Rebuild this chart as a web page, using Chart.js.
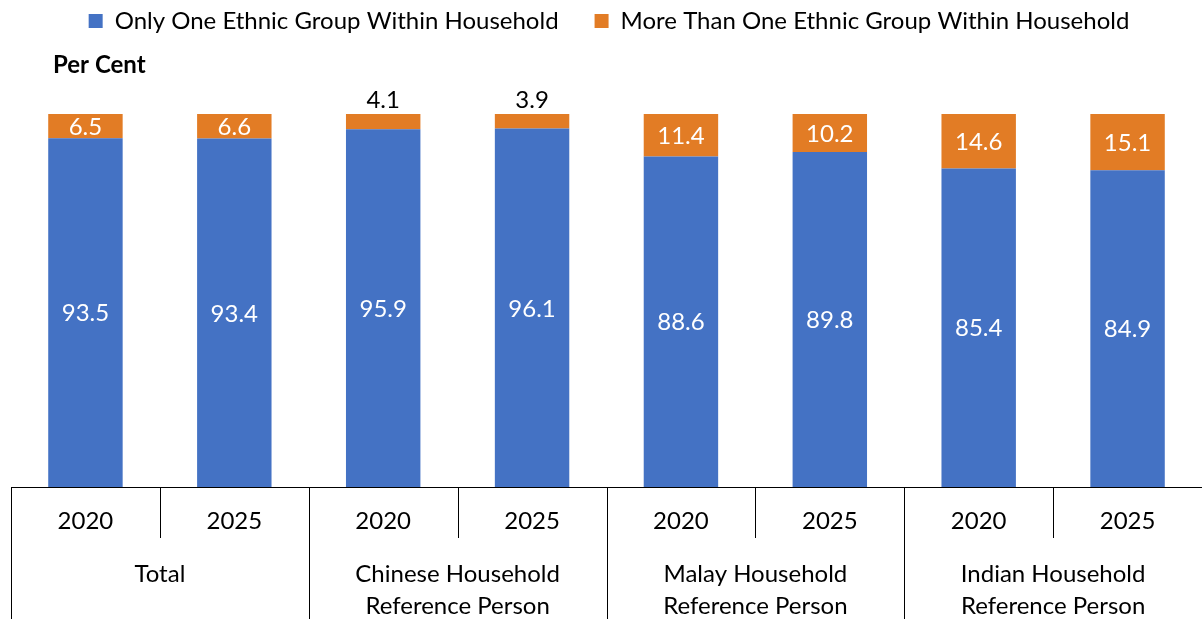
<!DOCTYPE html>
<html>
<head>
<meta charset="utf-8">
<script src="https://cdn.jsdelivr.net/npm/chart.js@4.4.1/dist/chart.umd.min.js"></script>
<style>
  html, body { margin: 0; padding: 0; background: #fff; }
  #wrap { width: 1202px; height: 619px; }
</style>
</head>
<body>
<div id="wrap"><canvas id="chart"></canvas></div>
<script>
// data
const years = ['2020', '2025', '2020', '2025', '2020', '2025', '2020', '2025'];
const groups = [
  ['Total'],
  ['Chinese Household', 'Reference Person'],
  ['Malay Household', 'Reference Person'],
  ['Indian Household', 'Reference Person'],
];
const seriesNames = ['Only One Ethnic Group Within Household', 'More Than One Ethnic Group Within Household'];
const oneGroup = [93.5, 93.4, 95.9, 96.1, 88.6, 89.8, 85.4, 84.9];
const multiGroup = [6.5, 6.6, 4.1, 3.9, 11.4, 10.2, 14.6, 15.1];
const yTitle = 'Per Cent';

const FONT = 'Lato, "Open Sans", sans-serif';
const BLUE = '#4472C4';
const ORANGE = '#E27C25';

// labels on each bar segment; thin segments get their label above the bar
const segmentLabels = {
  id: 'segmentLabels',
  afterDatasetsDraw(chart) {
    const ctx = chart.ctx;
    ctx.save();
    ctx.font = '24px ' + FONT;
    ctx.textAlign = 'center';
    ctx.textBaseline = 'middle';
    chart.data.datasets.forEach((ds, di) => {
      chart.getDatasetMeta(di).data.forEach((bar, i) => {
        const v = ds.data[i];
        const h = Math.abs(bar.base - bar.y);
        if (h < 22) {
          ctx.fillStyle = '#000';
          ctx.fillText(v.toFixed(1), bar.x, bar.y - 14);
        } else {
          ctx.fillStyle = '#fff';
          ctx.fillText(v.toFixed(1), bar.x, (bar.y + bar.base) / 2 + 1);
        }
      });
    });
    ctx.restore();
  },
};

// two-level category axis: dividers and group names
const groupAxis = {
  id: 'groupAxis',
  afterDraw(chart) {
    const ctx = chart.ctx;
    const xs = chart.scales.x;
    const half = (xs.getPixelForValue(1) - xs.getPixelForValue(0)) / 2;
    const top = xs.top;
    ctx.save();
    ctx.strokeStyle = '#000';
    ctx.lineWidth = 1;
    for (let i = 0; i < years.length; i++) {
      const x = Math.round(xs.getPixelForValue(i) - half) + 0.5;
      ctx.beginPath();
      ctx.moveTo(x, top);
      ctx.lineTo(x, i % 2 === 0 ? chart.height : top + 51);
      ctx.stroke();
    }
    ctx.fillStyle = '#000';
    ctx.font = '24px ' + FONT;
    ctx.textAlign = 'center';
    ctx.textBaseline = 'middle';
    groups.forEach((lines, g) => {
      const cx = (xs.getPixelForValue(2 * g) + xs.getPixelForValue(2 * g + 1)) / 2;
      lines.forEach((t, k) => ctx.fillText(t, cx, top + 87 + k * 32));
    });
    // axis title
    ctx.font = 'bold 24px ' + FONT;
    ctx.textAlign = 'left';
    ctx.fillText(yTitle, 53, 65);
    ctx.restore();
  },
};

// leave room under the legend for the axis title
const legendRoom = {
  id: 'legendRoom',
  beforeInit(chart) {
    const fit = chart.legend.fit;
    chart.legend.fit = function () {
      fit.call(this);
      this.height = 141;
    };
  },
};

new Chart(document.getElementById('chart'), {
  type: 'bar',
  data: {
    labels: years,
    datasets: [
      { label: seriesNames[0], data: oneGroup, backgroundColor: BLUE },
      { label: seriesNames[1], data: multiGroup, backgroundColor: ORANGE },
    ],
  },
  options: {
    responsive: true,
    maintainAspectRatio: false,
    animation: false,
    layout: { padding: { left: 11, right: -5, top: -27, bottom: 0 } },
    datasets: { bar: { categoryPercentage: 1, barPercentage: 0.5 } },
    scales: {
      x: {
        stacked: true,
        grid: { display: false, drawTicks: false },
        border: { display: true, color: '#000', width: 1 },
        ticks: { color: '#000', font: { family: FONT, size: 24 }, padding: 20, maxRotation: 0, autoSkip: false },
        afterFit(scale) { scale.height = 132; },
      },
      y: { stacked: true, display: false, min: 0, max: 100 },
    },
    plugins: {
      legend: {
        position: 'top',
        labels: {
          color: '#000',
          font: { family: FONT, size: 24 },
          boxWidth: 14,
          boxHeight: 14,
          padding: 36,
        },
      },
      tooltip: { enabled: false },
    },
  },
  plugins: [segmentLabels, groupAxis, legendRoom],
});
</script>
</body>
</html>
